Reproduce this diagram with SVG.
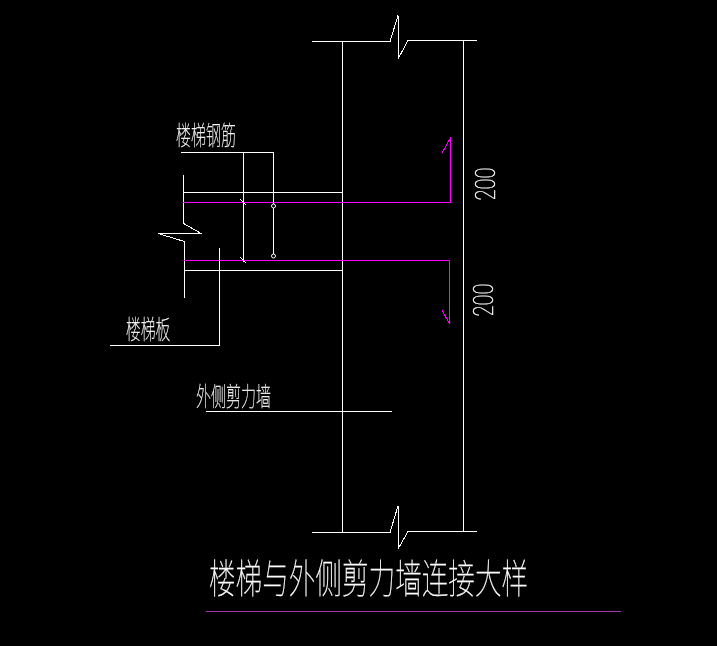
<svg xmlns="http://www.w3.org/2000/svg" width="717" height="646" viewBox="0 0 717 646">
<style>
.w{fill:none;stroke:#fff;stroke-width:1;shape-rendering:crispEdges}
.c{fill:none;stroke:#fff;stroke-width:1}
.m{fill:none;stroke:#f0f;stroke-width:1;shape-rendering:crispEdges}
.t{fill:#fff;stroke:#fff;stroke-width:.25;font-family:"Noto Sans CJK SC","Liberation Sans",sans-serif;font-weight:100}
.d{fill:#fff;stroke:#fff;stroke-width:.35;font-family:"Roboto","Liberation Sans",sans-serif;font-size:28px;font-weight:100}
</style>
<rect width="717" height="646" fill="#000"/>
<g id="wall">
<path class="w" d="M312 41.500H390L398 15.500V59L408 40.500H477"/>
<path class="w" d="M312 532.500H390L398 506V549L408 531.500H477"/>
<path class="w" d="M342.500 41V532M463.500 40V532"/>
</g>
<g id="slab">
<path class="w" d="M183.500 175V223.500L201 233.500H158L184.500 241.500V298"/>
<path class="w" d="M183 192.500H342M184 270.500H342"/>
</g>
<g id="rebar">
<path class="m" d="M183 202.500H450.500V138L442 153"/>
<path class="m" d="M184 260.500H449.500V324L442 310"/>
</g>
<g id="connectors">
<path class="w" d="M181 152.500H273.500V204M273.500 208V254M243.500 152.500V262"/>
<path class="w" d="M240 199L246.500 205.500M240 257L246.500 263.500"/>
<circle class="c" cx="273.500" cy="206" r="2"/>
<circle class="c" cx="273.500" cy="256" r="2"/>
<path class="w" d="M219.500 248V345.500H110"/>
<path class="w" d="M206 411.500H392"/>
</g>
<g id="labels" opacity=".999">
<text class="t" transform="translate(176 145) scale(.6 1.04)" font-size="25">楼梯钢筋</text>
<text class="t" transform="translate(126 339) scale(.59 1.04)" font-size="25">楼梯板</text>
<text class="t" transform="translate(196 406) scale(.6 1.04)" font-size="25">外侧剪力墙</text>
<text class="t" transform="translate(209 593) scale(.7 1.04)" font-size="38">楼梯与外侧剪力墙连接大样</text>
<text class="d" transform="translate(495 200.500) rotate(-90) scale(.72 1)">200</text>
<text class="d" transform="translate(493 316.500) rotate(-90) scale(.72 1)">200</text>
</g>
<g id="title-line"><path d="M206 611.500H621" fill="none" stroke="#a838a8" stroke-width="1" shape-rendering="crispEdges"/></g>
</svg>
